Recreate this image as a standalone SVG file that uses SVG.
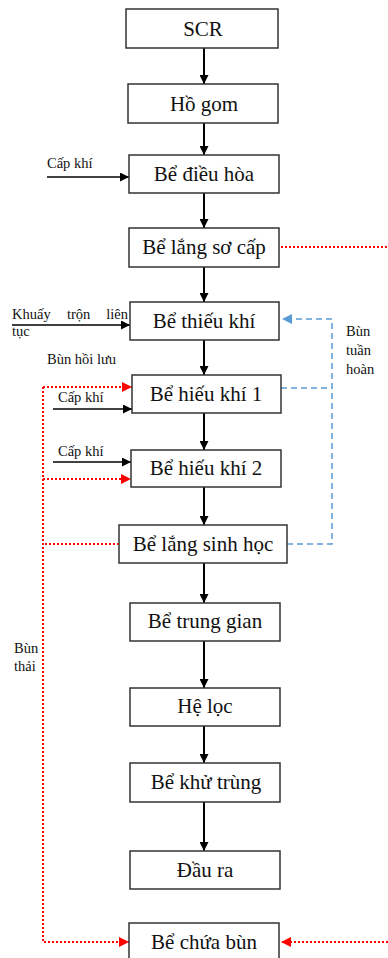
<svg xmlns="http://www.w3.org/2000/svg" width="388" height="958" viewBox="0 0 388 958">
  <style>
    .box { fill: #ffffff; stroke: #333333; stroke-width: 1.5; }
    .lbl { font-family: "Liberation Serif", "Times New Roman", serif; font-size: 21px; fill: #111111; text-anchor: middle; }
    .sm { font-family: "Liberation Serif", "Times New Roman", serif; font-size: 14.5px; fill: #111111; }
    .flow { stroke: #000000; stroke-width: 2; fill: none; }
    .air { stroke: #000000; stroke-width: 1.5; fill: none; }
    .sludge { stroke: #ff0000; stroke-width: 2; stroke-dasharray: 2 2; fill: none; }
    .recycle { stroke: #5b9bd5; stroke-width: 1.5; stroke-dasharray: 6 4; fill: none; }
  </style>
  <defs>
    <marker id="ahBlack" viewBox="0 0 10 10" refX="10" refY="5" markerWidth="9" markerHeight="9" markerUnits="userSpaceOnUse" orient="auto">
      <path d="M0,0 L10,5 L0,10 z" fill="#000000"/>
    </marker>
    <marker id="ahRed" viewBox="0 0 10 10" refX="10" refY="5" markerWidth="10" markerHeight="10" markerUnits="userSpaceOnUse" orient="auto">
      <path d="M0,0 L10,5 L0,10 z" fill="#ff0000"/>
    </marker>
    <marker id="ahBlue" viewBox="0 0 10 10" refX="10" refY="5" markerWidth="10" markerHeight="10" markerUnits="userSpaceOnUse" orient="auto">
      <path d="M0,0 L10,5 L0,10 z" fill="#5b9bd5"/>
    </marker>
  </defs>

  <rect width="388" height="958" fill="#ffffff"/>

  <!-- connectors -->
  <g id="connectors">
    <!-- main treatment line -->
    <line class="flow" x1="204" y1="48" x2="204" y2="84" marker-end="url(#ahBlack)"/>
    <line class="flow" x1="204" y1="123" x2="204" y2="155" marker-end="url(#ahBlack)"/>
    <line class="flow" x1="204" y1="193" x2="204" y2="228" marker-end="url(#ahBlack)"/>
    <line class="flow" x1="204" y1="267" x2="204" y2="302" marker-end="url(#ahBlack)"/>
    <line class="flow" x1="204" y1="340" x2="204" y2="375" marker-end="url(#ahBlack)"/>
    <line class="flow" x1="204" y1="413" x2="204" y2="450" marker-end="url(#ahBlack)"/>
    <line class="flow" x1="204" y1="487" x2="204" y2="525" marker-end="url(#ahBlack)"/>
    <line class="flow" x1="204" y1="563" x2="204" y2="603" marker-end="url(#ahBlack)"/>
    <line class="flow" x1="204" y1="641" x2="204" y2="688" marker-end="url(#ahBlack)"/>
    <line class="flow" x1="204" y1="726" x2="204" y2="763" marker-end="url(#ahBlack)"/>
    <line class="flow" x1="204" y1="802" x2="204" y2="851" marker-end="url(#ahBlack)"/>

    <!-- air / mixing inputs -->
    <line class="air" x1="47" y1="177" x2="129" y2="177" marker-end="url(#ahBlack)"/>
    <line class="air" x1="12" y1="325" x2="130" y2="325" marker-end="url(#ahBlack)"/>
    <line class="air" x1="53" y1="409" x2="132" y2="409" marker-end="url(#ahBlack)"/>
    <line class="air" x1="53" y1="462" x2="131" y2="462" marker-end="url(#ahBlack)"/>

    <!-- sludge lines (red dotted) -->
    <line class="sludge" x1="281" y1="247" x2="388" y2="247"/>
    <line class="sludge" x1="388" y1="942" x2="281" y2="942" marker-end="url(#ahRed)"/>
    <line class="sludge" x1="119" y1="544" x2="43" y2="544"/>
    <path class="sludge" d="M43,387 L43,942 L129,942" marker-end="url(#ahRed)"/>
    <line class="sludge" x1="43" y1="387" x2="132" y2="387" marker-end="url(#ahRed)"/>
    <line class="sludge" x1="43" y1="479" x2="131" y2="479" marker-end="url(#ahRed)"/>

    <!-- return sludge (blue dashed) -->
    <path class="recycle" d="M287,544 L332,544 L332,319 L282,319" marker-end="url(#ahBlue)"/>
    <line class="recycle" x1="281" y1="388" x2="332" y2="388"/>
  </g>

  <!-- nodes -->
  <g id="scr"><rect class="box" x="126" y="9" width="152" height="39"/><text class="lbl" x="203" y="36">SCR</text></g>
  <g id="ho-gom"><rect class="box" x="128" y="84" width="150" height="39"/><text class="lbl" x="204" y="111">Hồ gom</text></g>
  <g id="be-dieu-hoa"><rect class="box" x="129" y="155" width="150" height="38"/><text class="lbl" x="204" y="181">Bể điều hòa</text></g>
  <g id="be-lang-so-cap"><rect class="box" x="129" y="228" width="150" height="39"/><text class="lbl" x="204" y="254">Bể lắng sơ cấp</text></g>
  <g id="be-thieu-khi"><rect class="box" x="130" y="302" width="149" height="38"/><text class="lbl" x="204" y="328">Bể thiếu khí</text></g>
  <g id="be-hieu-khi-1"><rect class="box" x="132" y="375" width="149" height="38"/><text class="lbl" x="206" y="401">Bể hiếu khí 1</text></g>
  <g id="be-hieu-khi-2"><rect class="box" x="131" y="450" width="150" height="37"/><text class="lbl" x="206" y="475">Bể hiếu khí 2</text></g>
  <g id="be-lang-sinh-hoc"><rect class="box" x="119" y="525" width="168" height="38"/><text class="lbl" x="203" y="551">Bể lắng sinh học</text></g>
  <g id="be-trung-gian"><rect class="box" x="130" y="603" width="150" height="38"/><text class="lbl" x="205" y="628">Bể trung gian</text></g>
  <g id="he-loc"><rect class="box" x="130" y="688" width="150" height="38"/><text class="lbl" x="205" y="713">Hệ lọc</text></g>
  <g id="be-khu-trung"><rect class="box" x="130" y="763" width="150" height="39"/><text class="lbl" x="206" y="789">Bể khử trùng</text></g>
  <g id="dau-ra"><rect class="box" x="130" y="851" width="150" height="38"/><text class="lbl" x="205" y="877">Đầu ra</text></g>
  <g id="be-chua-bun"><rect class="box" x="129" y="923" width="150" height="40"/><text class="lbl" x="204" y="949">Bể chứa bùn</text></g>

  <!-- side labels -->
  <g id="labels">
    <text class="sm" x="47" y="168">Cấp khí</text>
    <text class="sm" x="12" y="319">Khuấy</text>
    <text class="sm" x="67" y="319">trộn</text>
    <text class="sm" x="128" y="319" text-anchor="end">liên</text>
    <text class="sm" x="12" y="336">tục</text>
    <text class="sm" x="47" y="364">Bùn hồi lưu</text>
    <text class="sm" x="58" y="402">Cấp khí</text>
    <text class="sm" x="58" y="456">Cấp khí</text>
    <text class="sm" x="346" y="336">Bùn</text>
    <text class="sm" x="346" y="355">tuần</text>
    <text class="sm" x="346" y="374">hoàn</text>
    <text class="sm" x="14" y="653">Bùn</text>
    <text class="sm" x="14" y="671">thải</text>
  </g>
</svg>
